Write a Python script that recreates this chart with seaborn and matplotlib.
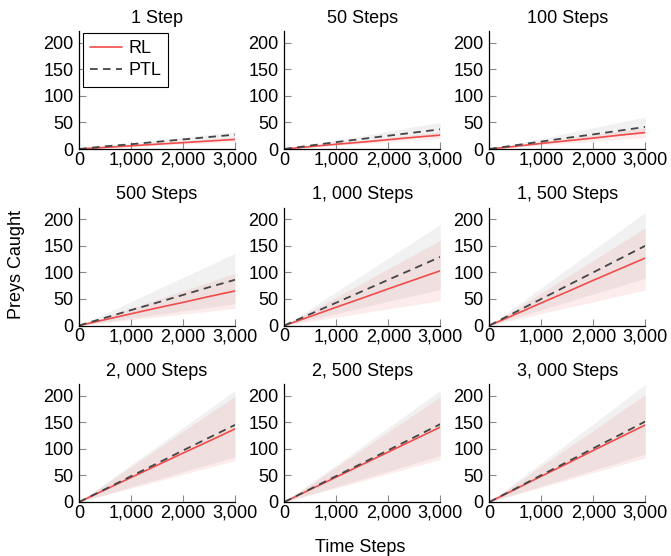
import numpy as np
import pandas as pd
import matplotlib
matplotlib.use("Agg")
import matplotlib.pyplot as plt
import seaborn as sns
from matplotlib.ticker import FuncFormatter

# ---------------- data ----------------
steps = [0, 500, 1000, 1500, 2000, 2500, 3000]
titles = ["1 Step", "50 Steps", "100 Steps",
          "500 Steps", "1, 000 Steps", "1, 500 Steps",
          "2, 000 Steps", "2, 500 Steps", "3, 000 Steps"]

rl_mean = [
    [0, 3, 6, 9, 12, 15, 18],
    [0, 4.5, 9, 13, 17.5, 22, 26],
    [0, 5, 10.5, 15.5, 20.5, 26, 31],
    [0, 11, 22, 33, 43.5, 54.5, 65],
    [0, 17, 34.5, 51.5, 69, 86, 103],
    [0, 21, 42.5, 63.5, 85, 106, 127],
    [0, 23, 46, 69, 92, 114.5, 137.5],
    [0, 23.5, 47, 70.5, 94, 117.5, 141],
    [0, 24, 48.5, 72.5, 97, 121, 145],
]
rl_low = [
    [0, 2, 4.5, 7, 9, 11.5, 14],
    [0, 3.5, 7, 10, 13.5, 17, 20],
    [0, 3.5, 7.5, 11, 14.5, 18.5, 22],
    [0, 5.5, 11, 16, 21.5, 27, 32],
    [0, 8, 15.5, 23.5, 31.5, 39, 47],
    [0, 11, 22.5, 33.5, 44.5, 56, 67],
    [0, 13, 26, 39, 52, 65, 78],
    [0, 13.5, 26.5, 40, 53.5, 66.5, 80],
    [0, 14, 27.5, 41.5, 55.5, 69, 83],
]
rl_high = [
    [0, 4, 8, 11.5, 15, 18.5, 22],
    [0, 5.5, 11, 16, 21.5, 27, 32],
    [0, 6.5, 13.5, 20, 26.5, 33.5, 40],
    [0, 16, 32.5, 49, 65, 81.5, 98],
    [0, 26.5, 53.5, 80, 107, 133.5, 160],
    [0, 30.5, 61.5, 92, 122.5, 153, 184],
    [0, 33, 66.5, 99.5, 133, 166, 199],
    [0, 33, 66, 99, 132, 165, 198],
    [0, 33.5, 67.5, 101, 134.5, 168.5, 202],
]
ptl_mean = [
    [0, 5, 9, 13.5, 18, 22.5, 27],
    [0, 6.5, 13, 19, 25, 31, 37],
    [0, 7, 14, 21, 27.5, 34.5, 41.5],
    [0, 14.5, 29, 43, 57.5, 72, 86],
    [0, 21.5, 43, 64.5, 86, 107.5, 129],
    [0, 25, 50, 75, 100, 125, 150],
    [0, 24, 48.5, 72.5, 97, 121, 145],
    [0, 24.5, 49, 73, 97.5, 122, 146.5],
    [0, 25, 50.5, 75.5, 101, 126, 151.5],
]
ptl_low = [
    [0, 3.5, 7, 10.5, 14, 17.5, 21],
    [0, 4.5, 9, 14, 18, 23, 27],
    [0, 5, 10, 15, 20, 25, 30],
    [0, 7, 14, 20.5, 27.5, 34, 41],
    [0, 11.5, 22.5, 34, 45.5, 56.5, 68],
    [0, 15, 29.5, 44.5, 59.5, 74, 89],
    [0, 14, 28.5, 42.5, 57, 71, 85],
    [0, 14.5, 29, 43.5, 58, 72.5, 87],
    [0, 15, 30, 45, 60, 75, 90],
]
ptl_high = [
    [0, 6, 11.5, 17, 22, 27.5, 33],
    [0, 8.5, 17, 25, 33.5, 42, 50],
    [0, 10, 20, 30, 40, 50, 60],
    [0, 22.5, 45, 68, 90.5, 113, 136],
    [0, 31.5, 63.5, 95, 127, 158.5, 190],
    [0, 35.5, 71, 106.5, 142, 177.5, 213],
    [0, 35, 70, 105, 140, 175, 210],
    [0, 35, 70, 105, 140, 175, 210],
    [0, 37, 73.5, 110.5, 147, 184, 221],
]
x_ticks = [0, 1000, 2000, 3000]
y_ticks = [0, 50, 100, 150, 200]

# ---------------- style ----------------
sns.set_theme(style="white")
plt.rcParams["font.family"] = ["Liberation Sans", "DejaVu Sans"]
FS = 13
plt.rcParams["font.size"] = FS
plt.rcParams["text.color"] = "black"
plt.rcParams["axes.labelcolor"] = "black"

RL_COLOR = "#f24b4b"
PTL_COLOR = "#454545"

fig = plt.figure(figsize=(6.71, 5.56), dpi=100)

W, H = 671, 556
col_left = [79, 284.3, 489.3]
row_top = [31, 207.5, 384]
aw, ah = 156, 118

for i in range(9):
    r, c = divmod(i, 3)
    ax = fig.add_axes([col_left[c] / W, 1 - (row_top[r] + ah) / H, aw / W, ah / H])

    ax.fill_between(steps, ptl_low[i], ptl_high[i], color="#000000", alpha=0.055,
                    linewidth=0, zorder=1)
    ax.fill_between(steps, rl_low[i], rl_high[i], color="#e03030", alpha=0.09,
                    linewidth=0, zorder=1)

    df = pd.DataFrame({"t": steps, "rl": rl_mean[i], "ptl": ptl_mean[i]})
    sns.lineplot(data=df, x="t", y="rl", ax=ax, color=RL_COLOR, linewidth=1.2,
                 label="RL", zorder=3, legend=False)
    sns.lineplot(data=df, x="t", y="ptl", ax=ax, color=PTL_COLOR, linewidth=1.3,
                 linestyle=(0, (4.2, 3.0)), label="PTL", zorder=4, legend=False)

    ax.set_xlim(0, 3000)
    ax.set_ylim(0, 222)
    ax.set_xticks(x_ticks)
    ax.set_yticks(y_ticks)
    ax.xaxis.set_major_formatter(FuncFormatter(lambda v, p: f"{int(v):,}"))
    ax.set_xlabel("")
    ax.set_ylabel("")
    ax.set_title(titles[i], fontsize=FS, pad=6, color="black")

    for s in ["top", "right"]:
        ax.spines[s].set_visible(False)
    for s in ["left", "bottom"]:
        ax.spines[s].set_color("black")
        ax.spines[s].set_linewidth(0.9)
        ax.spines[s].set_zorder(5)
    ax.tick_params(axis="both", direction="in", length=5, width=0.8,
                   color="#8a8a8a", labelcolor="black", labelsize=FS)
    ax.tick_params(axis="y", pad=4, left=True)
    ax.tick_params(axis="x", pad=2, bottom=True)
    ax.grid(False)

    if i == 0:
        leg = ax.legend(loc="upper left", bbox_to_anchor=(0.025, 0.985),
                        borderaxespad=0, fancybox=False, framealpha=1,
                        edgecolor="black", fontsize=FS, handlelength=1.75,
                        handletextpad=0.35, borderpad=0.4, labelspacing=0.3)
        leg.get_frame().set_linewidth(0.8)
        for t in leg.get_texts():
            t.set_color("black")

fig.text(17 / W, 1 - 265 / H, "Preys Caught", rotation=90, ha="center",
         va="center", fontsize=FS, color="black")
fig.text(360 / W, 1 - 547 / H, "Time Steps", ha="center", va="center",
         fontsize=FS, color="black")

fig.savefig("out.png", dpi=100)
